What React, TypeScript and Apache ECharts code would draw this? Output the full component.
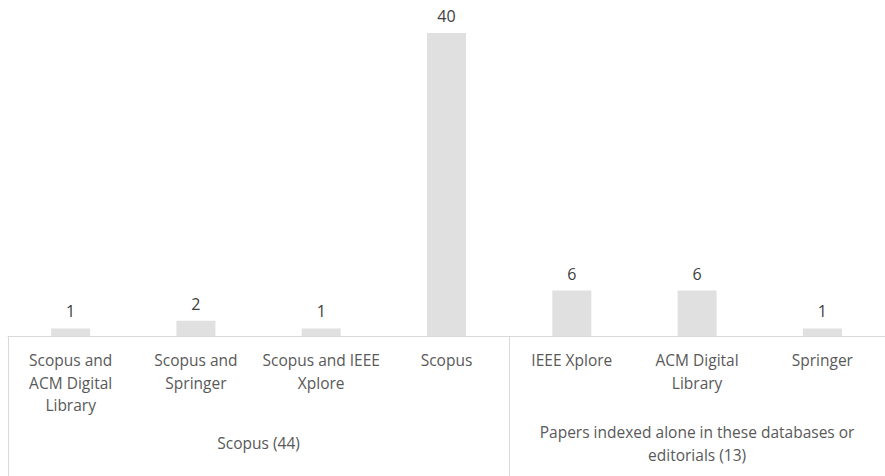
import React, { useEffect, useRef } from "react";
import * as echarts from "echarts";

const categories = [
  "Scopus and\nACM Digital\nLibrary",
  "Scopus and\nSpringer",
  "Scopus and IEEE\nXplore",
  "Scopus",
  "IEEE Xplore",
  "ACM Digital\nLibrary",
  "Springer",
];
const values = [1, 2, 1, 40, 6, 6, 1];
const groupLabels = ["Scopus (44)", "Papers indexed alone in these databases or\neditorials (13)"];
const groupCenters = [1.5, 5];
const groupBoundaries = [-0.5, 3.5];

export default function App() {
  const ref = useRef<HTMLDivElement>(null);
  useEffect(() => {
    const chart = echarts.init(ref.current!, null, { renderer: "svg" });
    const font = "'Open Sans', 'Noto Sans', sans-serif";
    chart.setOption({
      animation: false,
      backgroundColor: "#ffffff",
      grid: { left: 8, right: -2, top: 33, bottom: 140, containLabel: false },
      xAxis: [
        {
          type: "category",
          data: categories,
          position: "bottom",
          axisLine: { show: true, lineStyle: { color: "#d9d9d9", width: 1 } },
          axisTick: { show: false },
          axisLabel: {
            interval: 0,
            margin: 13,
            color: "#595959",
            fontSize: 15.5,
            lineHeight: 22.5,
            fontFamily: font,
          },
        },
        {
          type: "value",
          min: -0.5,
          max: 6.5,
          position: "bottom",
          offset: 0,
          splitLine: { show: false },
          axisLine: { show: false },
          axisTick: {
            show: true,
            customValues: groupBoundaries,
            length: 145,
            lineStyle: { color: "#d9d9d9", width: 1 },
          },
          axisLabel: {
            show: true,
            customValues: groupCenters,
            margin: 107,
            verticalAlign: "middle",
            color: "#595959",
            fontSize: 15.5,
            lineHeight: 23,
            fontFamily: font,
            formatter: (v: number) => {
              const i = groupCenters.indexOf(v);
              return i >= 0 ? groupLabels[i] : "";
            },
          },
        },
      ],
      yAxis: {
        type: "value",
        min: 0,
        max: 40,
        show: false,
        splitLine: { show: false },
      },
      series: [
        {
          type: "bar",
          data: values,
          xAxisIndex: 0,
          barWidth: 39,
          itemStyle: { color: "#e0e0e0" },
          label: {
            show: true,
            position: "top",
            distance: 9,
            color: "#404040",
            fontSize: 16,
            fontFamily: font,
          },
        },
      ],
    });
    return () => chart.dispose();
  }, []);
  return (
    <div
      ref={ref}
      style={{ position: "fixed", left: 0, top: 0, width: 885, height: 476 }}
    />
  );
}
